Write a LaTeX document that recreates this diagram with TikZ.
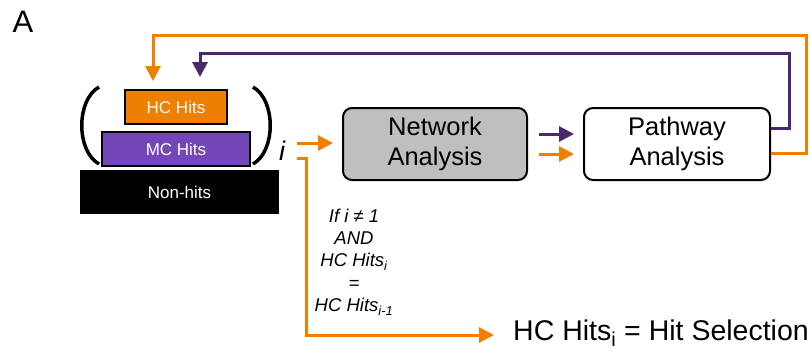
\documentclass[tikz,border=0pt]{standalone}
\usepackage{fontspec}
\setmainfont{Liberation Sans}
\usetikzlibrary{arrows.meta}
\definecolor{myorange}{RGB}{238,127,0}
\definecolor{mypurple}{RGB}{116,70,184}
\definecolor{darkpurple}{RGB}{75,40,110}
\definecolor{mygray}{RGB}{191,191,191}
\begin{document}
\begin{tikzpicture}[x=1pt,y=-1pt,
  hitbox/.style={draw=black, line width=2pt, text=white, inner sep=0pt, font=\fontsize{17}{19}\selectfont},
  procbox/.style={draw=black, line width=2pt, rounded corners=9pt, minimum height=72pt, align=center, inner sep=0pt, font=\fontsize{25.5}{30}\selectfont},
  arrowtip/.style={-{Triangle[length=15pt,width=15pt]}},
  oarrow/.style={draw=myorange, line width=3pt, arrowtip},
  parrow/.style={draw=darkpurple, line width=3pt, arrowtip},
  paren/.style={draw=black, line width=3.5pt},
  cond/.style={align=center, font=\fontsize{18.5}{22.3}\selectfont\itshape},
]
\useasboundingbox (0,0) rectangle (811,354);

\node[font=\fontsize{31}{31}\selectfont] (lblA) at (23,22) {A};

\node[hitbox, fill=myorange, minimum width=102pt, minimum height=34pt] (hc) at (176,107) {HC Hits};
\node[hitbox, fill=mypurple, minimum width=148pt, minimum height=34pt] (mc) at (176,149) {MC Hits};
\node[hitbox, fill=black, minimum width=197pt, minimum height=42pt] (nh) at (179.5,192) {Non-hits};

\draw[paren] (99,87) .. controls (76,100) and (76,151) .. (99,164);
\draw[paren] (253,87) .. controls (276,100) and (276,151) .. (253,164);
\node[font=\fontsize{27}{27}\selectfont\itshape] (iidx) at (282,151) {i};

\node[procbox, fill=mygray, minimum width=184pt] (net) at (435,144) {Network\\Analysis};
\node[procbox, fill=white, minimum width=186pt] (pw) at (677,144) {Pathway\\Analysis};

\coordinate (in1) at (297,143);
\draw[oarrow] (in1) -- ([xshift=-9pt,yshift=1pt]net.west);

\draw[parrow] ([xshift=11pt,yshift=10pt]net.east) -- ([xshift=-9pt,yshift=10pt]pw.west);
\draw[oarrow] ([xshift=11pt,yshift=-10pt]net.east) -- ([xshift=-9pt,yshift=-10pt]pw.west);

\draw[oarrow] ([yshift=-9pt]pw.east) -| (806,35) -| ([xshift=-23pt,yshift=8pt]hc.north);
\draw[parrow] ([yshift=16pt]pw.east) -| (789,53) -| ([xshift=24pt,yshift=12pt]hc.north);

\node[cond] (condtxt) at (354,262) {If i ≠ 1\\AND\\HC Hits\textsubscript{i}\\=\\HC Hits\textsubscript{i-1}};

\node[anchor=west, font=\fontsize{28.5}{28.5}\selectfont, inner sep=0pt] (sel) at (513,333) {HC Hits\textsubscript{i} = Hit Selection};
\coordinate (br) at (297,158);
\draw[oarrow] (br) -| (306,335) -- (494,335);
\end{tikzpicture}
\end{document}
